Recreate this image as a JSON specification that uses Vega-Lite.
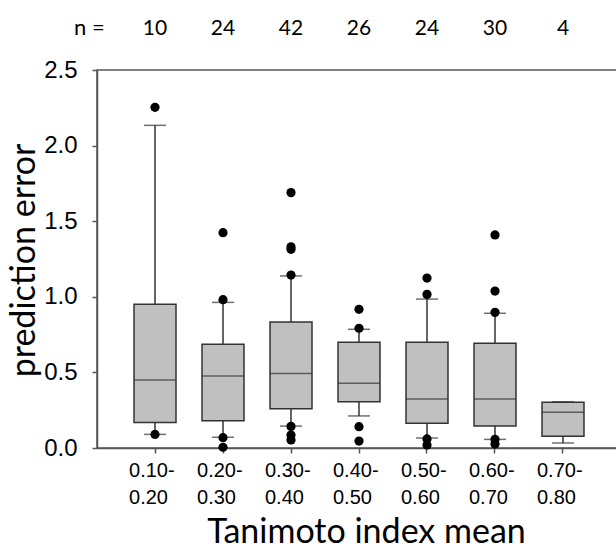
{
  "$schema": "https://vega.github.io/schema/vega-lite/v6.json",
  "autosize": {"type": "none"},
  "padding": {"left": 97, "top": 70, "right": 0, "bottom": 101},
  "width": 524,
  "height": 378,
  "background": "white",
  "config": {
    "view": {"stroke": "#555555", "strokeWidth": 1.5},
    "axis": {"grid": false, "domainColor": "#555555", "domainWidth": 1.5, "tickColor": "#555555", "tickWidth": 1.5, "tickSize": 5, "labelColor": "black", "titleColor": "black", "titleFontWeight": "normal"}
  },
  "title": {"text": "n =", "anchor": "start", "frame": "group", "orient": "top", "dx": -23, "dy": 49, "offset": 10, "font": "Lato", "fontSize": 22, "fontWeight": "normal", "color": "black", "baseline": "alphabetic"},
  "datasets": {
    "boxes": [
      {"cat": "0.10-0.20", "n": "10", "lo": 0.09, "q1": 0.168, "med": 0.45, "q3": 0.95, "hi": 2.134},
      {"cat": "0.20-0.30", "n": "24", "lo": 0.071, "q1": 0.181, "med": 0.476, "q3": 0.686, "hi": 0.963},
      {"cat": "0.30-0.40", "n": "42", "lo": 0.145, "q1": 0.26, "med": 0.492, "q3": 0.833, "hi": 1.138},
      {"cat": "0.40-0.50", "n": "26", "lo": 0.212, "q1": 0.306, "med": 0.428, "q3": 0.699, "hi": 0.785},
      {"cat": "0.50-0.60", "n": "24", "lo": 0.066, "q1": 0.163, "med": 0.324, "q3": 0.699, "hi": 0.985},
      {"cat": "0.60-0.70", "n": "30", "lo": 0.057, "q1": 0.145, "med": 0.324, "q3": 0.692, "hi": 0.891},
      {"cat": "0.70-0.80", "n": "4", "lo": 0.033, "q1": 0.078, "med": 0.236, "q3": 0.302, "hi": 0.306}
    ],
    "outliers": [
      {"cat": "0.10-0.20", "v": 2.253},
      {"cat": "0.10-0.20", "v": 0.09},
      {"cat": "0.20-0.30", "v": 1.424},
      {"cat": "0.20-0.30", "v": 0.981},
      {"cat": "0.20-0.30", "v": 0.068},
      {"cat": "0.20-0.30", "v": 0.005},
      {"cat": "0.30-0.40", "v": 1.689},
      {"cat": "0.30-0.40", "v": 1.331},
      {"cat": "0.30-0.40", "v": 1.314},
      {"cat": "0.30-0.40", "v": 1.144},
      {"cat": "0.30-0.40", "v": 0.143},
      {"cat": "0.30-0.40", "v": 0.086},
      {"cat": "0.30-0.40", "v": 0.053},
      {"cat": "0.40-0.50", "v": 0.917},
      {"cat": "0.40-0.50", "v": 0.792},
      {"cat": "0.40-0.50", "v": 0.141},
      {"cat": "0.40-0.50", "v": 0.046},
      {"cat": "0.50-0.60", "v": 1.124},
      {"cat": "0.50-0.60", "v": 1.016},
      {"cat": "0.50-0.60", "v": 0.06},
      {"cat": "0.50-0.60", "v": 0.02},
      {"cat": "0.60-0.70", "v": 1.409},
      {"cat": "0.60-0.70", "v": 1.038},
      {"cat": "0.60-0.70", "v": 0.897},
      {"cat": "0.60-0.70", "v": 0.057},
      {"cat": "0.60-0.70", "v": 0.026}
    ]
  },
  "encoding": {
    "x": {
      "field": "cat", "type": "nominal", "sort": null,
      "scale": {"domain": ["0.10-0.20", "0.20-0.30", "0.30-0.40", "0.40-0.50", "0.50-0.60", "0.60-0.70", "0.70-0.80"], "paddingInner": 0, "paddingOuter": 0.353},
      "axis": {"title": "Tanimoto index mean", "labelAngle": 0, "labelFont": "Liberation Sans", "labelFontSize": 20, "labelLineHeight": 27, "labelPadding": 7, "labelAlign": "left", "labelOffset": -26, "labelOverlap": false, "labelBound": false,
        "labelExpr": "[slice(datum.label, 0, 5), slice(datum.label, 5)]",
        "titleFont": "Lato", "titleFontSize": 34, "titleX": 269, "titleY": 94, "titleBaseline": "alphabetic", "titleAlign": "center"}
    }
  },
  "layer": [
    {
      "data": {"name": "boxes"},
      "mark": {"type": "rule", "color": "#333333", "strokeWidth": 1.5},
      "encoding": {
        "y": {"field": "lo", "type": "quantitative", "scale": {"domain": [0, 2.5], "nice": false, "zero": false},
          "axis": {"title": "prediction error", "values": [0, 0.5, 1, 1.5, 2, 2.5], "format": ".1f", "labelFont": "Liberation Sans", "labelFontSize": 24, "labelPadding": 15,
            "titleFont": "Lato", "titleFontSize": 34, "titleAngle": 270, "titleX": -63, "titleY": 190, "titleBaseline": "alphabetic", "titleAlign": "center"}},
        "y2": {"field": "hi"}
      }
    },
    {
      "data": {"name": "boxes"},
      "mark": {"type": "tick", "color": "#333333", "thickness": 1.5, "size": 22},
      "encoding": {"y": {"field": "lo", "type": "quantitative"}}
    },
    {
      "data": {"name": "boxes"},
      "mark": {"type": "tick", "color": "#333333", "thickness": 1.5, "size": 22},
      "encoding": {"y": {"field": "hi", "type": "quantitative"}}
    },
    {
      "data": {"name": "boxes"},
      "mark": {"type": "bar", "width": 42, "fill": "#c0c0c0", "stroke": "#333333", "strokeWidth": 1.5},
      "encoding": {"y": {"field": "q1", "type": "quantitative"}, "y2": {"field": "q3"}}
    },
    {
      "data": {"name": "boxes"},
      "mark": {"type": "tick", "color": "#333333", "thickness": 1.5, "size": 42},
      "encoding": {"y": {"field": "med", "type": "quantitative"}}
    },
    {
      "data": {"name": "outliers"},
      "mark": {"type": "point", "filled": true, "color": "black", "opacity": 1, "size": 85},
      "encoding": {"y": {"field": "v", "type": "quantitative"}}
    },
    {
      "data": {"name": "boxes"},
      "mark": {"type": "text", "font": "Lato", "fontSize": 21, "color": "black", "baseline": "alphabetic", "align": "center"},
      "encoding": {"y": {"datum": 2.73, "type": "quantitative"}, "text": {"field": "n"}}
    }
  ]
}
